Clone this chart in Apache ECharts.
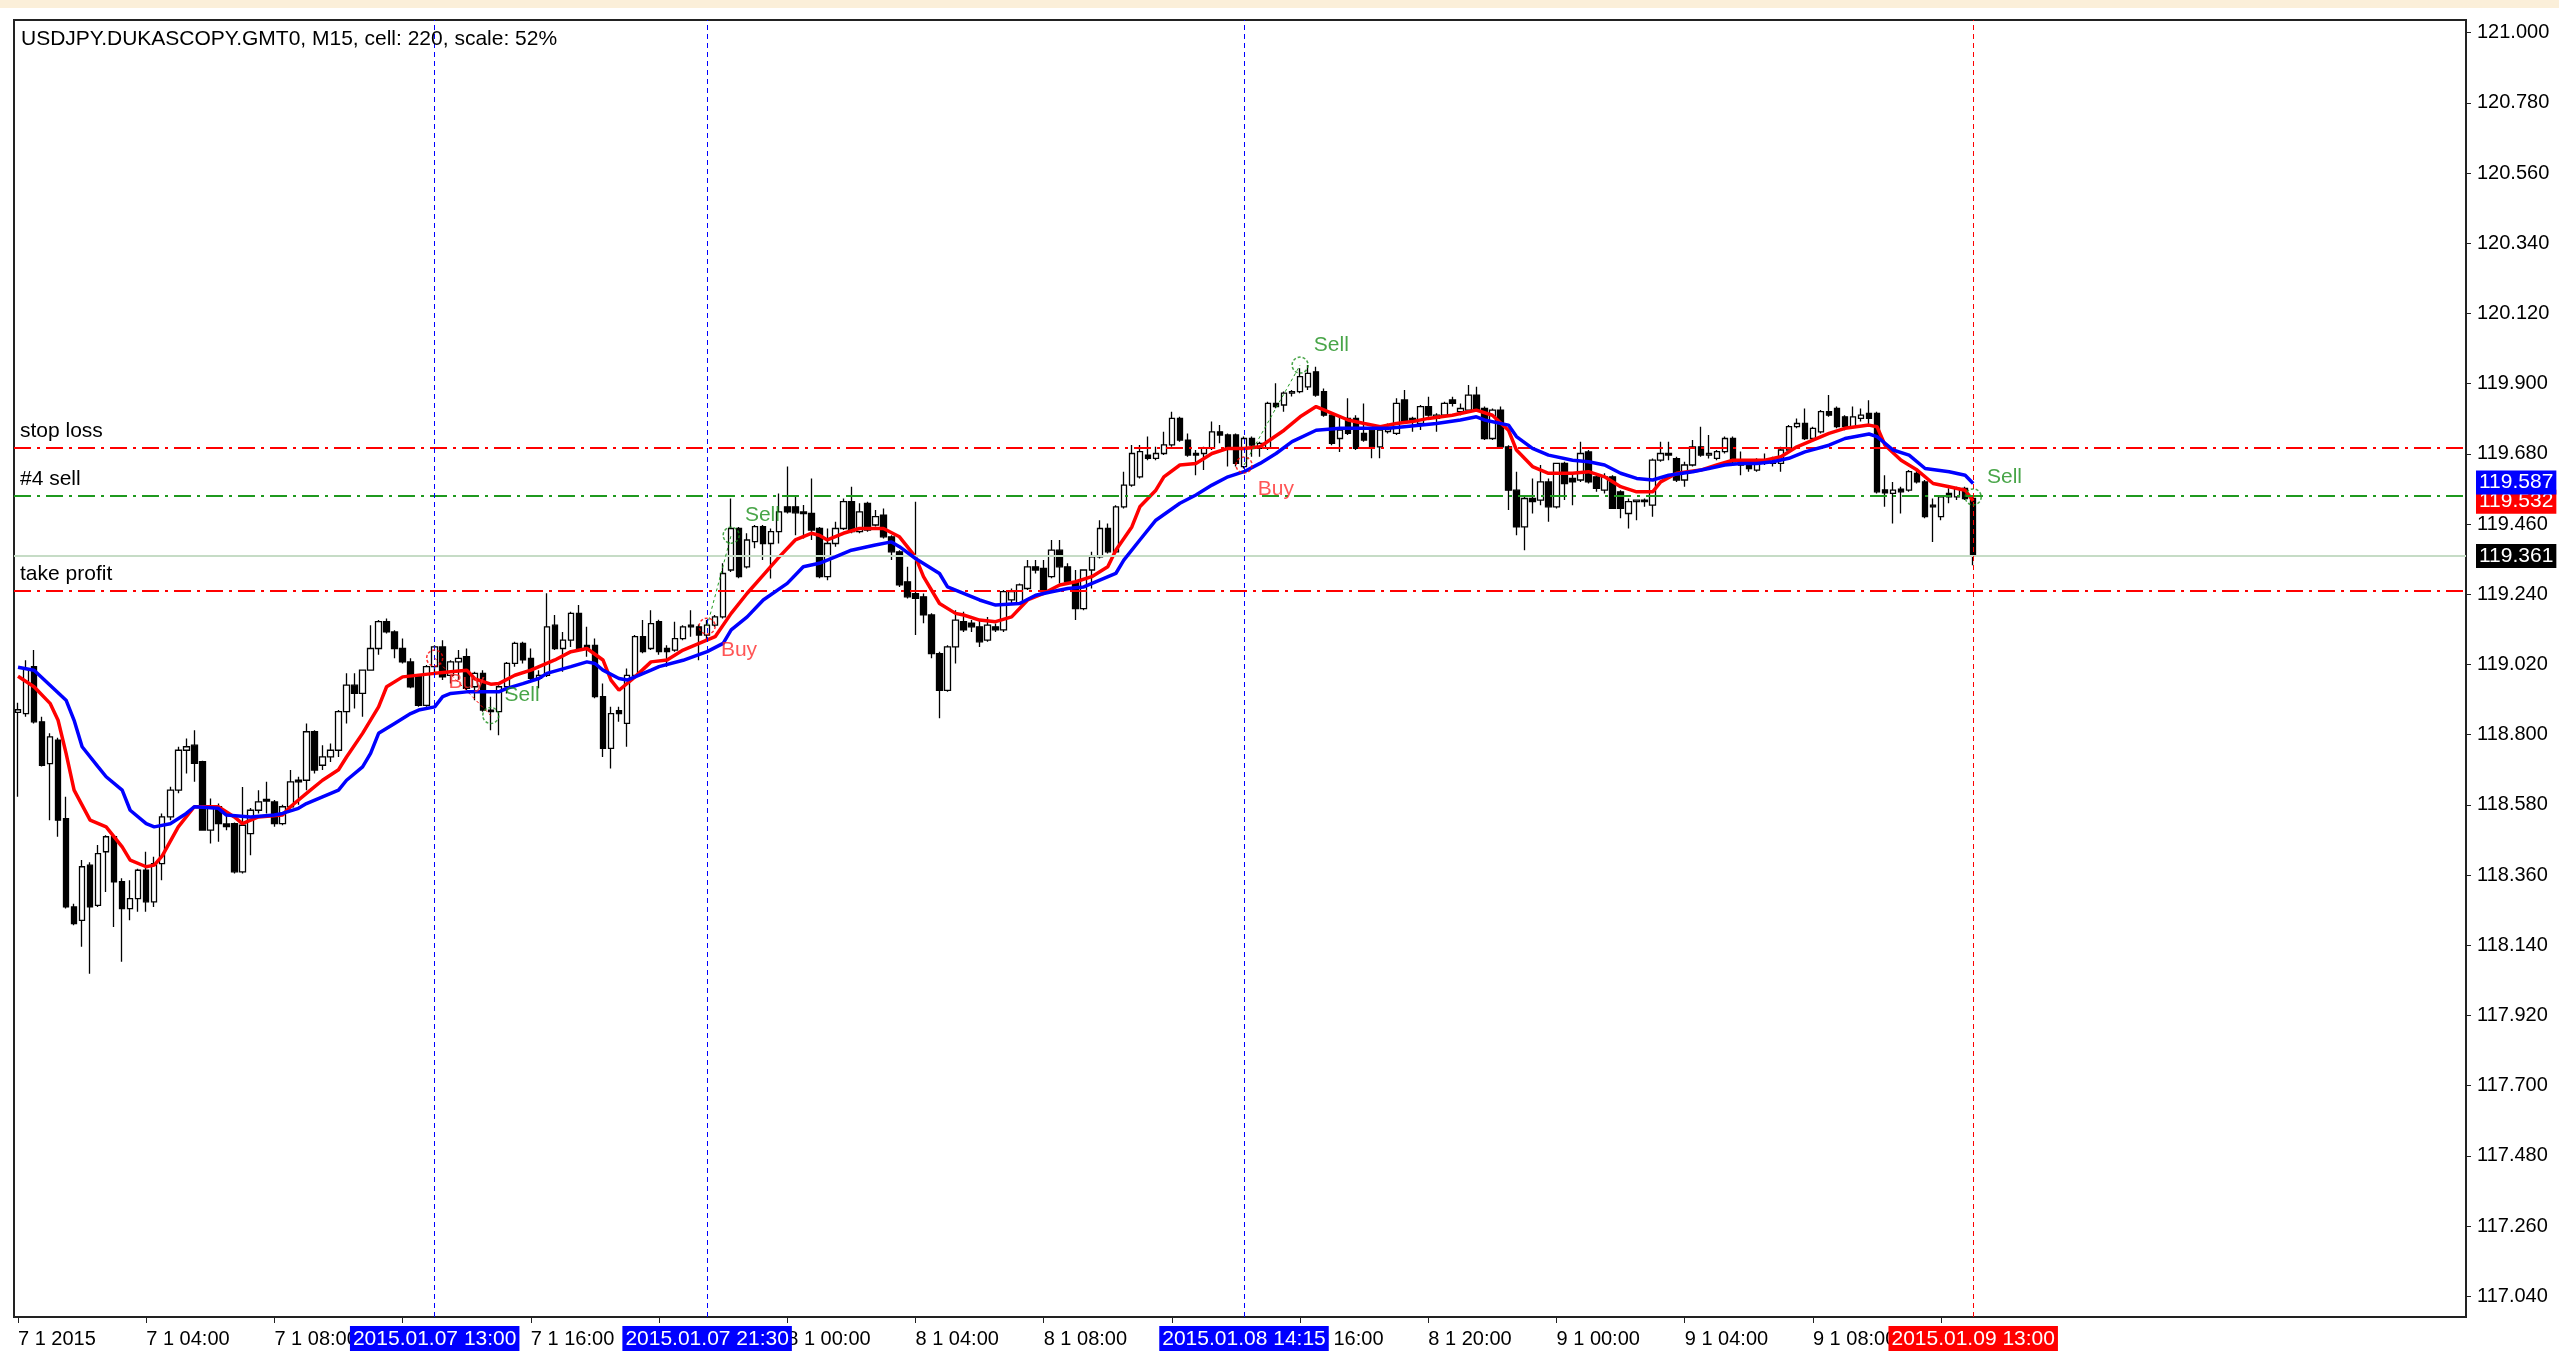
<!DOCTYPE html>
<html>
<head>
<meta charset="utf-8">
<title>USDJPY M15</title>
<script src="https://cdn.jsdelivr.net/npm/echarts@6/dist/echarts.min.js"></script>
<style>
  html, body { margin: 0; padding: 0; background: #fff; }
  #chart { width: 2559px; height: 1355px; }
</style>
</head>
<body>
<div id="chart"></div>
<script>
// one bar per 15 minutes from 2015.01.07 00:00, rows are [open, high, low, close]
const ohlc = [
  [118.870,118.900,118.605,118.878],[118.866,119.033,118.856,119.007],[119.013,119.065,118.835,118.840],[118.840,118.856,118.700,118.704],
  [118.709,118.804,118.532,118.793],[118.783,118.790,118.480,118.532],[118.537,118.605,118.255,118.260],[118.260,118.270,118.203,118.208],
  [118.218,118.407,118.135,118.386],[118.391,118.400,118.051,118.260],[118.265,118.454,118.260,118.427],[118.433,118.485,118.307,118.480],
  [118.480,118.485,118.197,118.339],[118.339,118.350,118.088,118.255],[118.255,118.344,118.218,118.286],[118.286,118.380,118.245,118.375],
  [118.375,118.433,118.245,118.276],[118.276,118.417,118.260,118.396],[118.396,118.553,118.344,118.542],[118.542,118.637,118.532,118.626],
  [118.626,118.762,118.616,118.751],[118.751,118.788,118.678,118.762],[118.767,118.814,118.652,118.710],[118.715,118.718,118.500,118.501],
  [118.501,118.600,118.459,118.574],[118.574,118.584,118.464,118.521],[118.520,118.550,118.500,118.512],[118.521,118.525,118.365,118.370],
  [118.370,118.636,118.365,118.516],[118.490,118.570,118.422,118.563],[118.563,118.626,118.553,118.589],[118.597,118.652,118.553,118.592],
  [118.589,118.595,118.511,118.521],[118.521,118.580,118.516,118.574],[118.574,118.689,118.570,118.652],[118.657,118.668,118.580,118.652],
  [118.657,118.835,118.626,118.809],[118.809,118.814,118.678,118.689],[118.704,118.767,118.689,118.730],[118.730,118.772,118.714,118.751],
  [118.751,118.877,118.730,118.872],[118.872,118.992,118.835,118.955],[118.955,118.992,118.882,118.929],[118.929,119.002,118.856,119.002],
  [119.002,119.143,119.000,119.070],[119.070,119.159,119.050,119.154],[119.154,119.164,119.117,119.122],[119.122,119.127,119.039,119.070],
  [119.070,119.101,119.023,119.028],[119.028,119.039,118.945,118.950],[118.985,118.986,118.887,118.892],[118.892,119.018,118.887,119.013],
  [119.013,119.080,118.986,119.075],[119.075,119.096,118.971,118.981],[118.986,119.033,118.960,119.028],[119.028,119.065,118.971,119.039],
  [119.044,119.070,118.940,118.945],[118.950,118.997,118.908,118.992],[118.992,119.002,118.872,118.877],[118.877,118.919,118.814,118.872],
  [118.872,118.955,118.798,118.950],[118.950,119.028,118.929,119.023],[119.023,119.091,119.013,119.086],[119.086,119.091,119.023,119.034],
  [119.039,119.070,118.971,118.976],[118.976,119.002,118.945,118.986],[118.986,119.243,118.981,119.138],[119.143,119.175,119.065,119.070],
  [119.070,119.122,118.997,119.096],[119.096,119.185,119.075,119.180],[119.180,119.206,119.065,119.070],[119.080,119.138,119.044,119.070],
  [119.080,119.101,118.914,118.919],[118.919,118.960,118.730,118.757],[118.757,118.887,118.694,118.866],[118.875,118.887,118.840,118.866],
  [118.835,119.007,118.762,118.986],[118.986,119.112,118.981,119.107],[119.107,119.159,119.055,119.060],[119.070,119.190,119.065,119.148],
  [119.154,119.160,119.050,119.060],[119.070,119.080,119.013,119.060],[119.065,119.154,119.060,119.101],[119.101,119.143,119.096,119.138],
  [119.143,119.190,119.107,119.138],[119.138,119.145,119.033,119.112],[119.112,119.159,119.100,119.143],[119.143,119.175,119.138,119.169],
  [119.169,119.337,119.164,119.305],[119.316,119.540,119.310,119.446],[119.446,119.451,119.290,119.295],[119.326,119.431,119.321,119.410],
  [119.405,119.457,119.384,119.452],[119.452,119.457,119.347,119.399],[119.399,119.446,119.289,119.436],[119.436,119.556,119.399,119.498],
  [119.514,119.640,119.493,119.498],[119.514,119.546,119.425,119.495],[119.498,119.520,119.415,119.493],[119.493,119.603,119.410,119.441],
  [119.446,119.451,119.290,119.295],[119.295,119.446,119.284,119.399],[119.399,119.467,119.389,119.446],[119.446,119.540,119.441,119.530],
  [119.530,119.577,119.431,119.436],[119.436,119.525,119.431,119.498],[119.525,119.530,119.436,119.441],[119.457,119.504,119.452,119.483],
  [119.488,119.509,119.415,119.420],[119.420,119.425,119.347,119.373],[119.373,119.378,119.263,119.269],[119.279,119.326,119.227,119.232],
  [119.242,119.530,119.112,119.227],[119.232,119.242,119.149,119.175],[119.175,119.180,119.039,119.054],[119.054,119.060,118.851,118.939],
  [118.939,119.080,118.934,119.075],[119.075,119.190,119.023,119.159],[119.154,119.185,119.122,119.128],[119.149,119.159,119.122,119.138],
  [119.138,119.159,119.075,119.091],[119.096,119.169,119.091,119.143],[119.138,119.148,119.122,119.128],[119.128,119.253,119.122,119.248],
  [119.222,119.258,119.211,119.248],[119.211,119.274,119.206,119.269],[119.258,119.347,119.253,119.326],[119.326,119.347,119.305,119.316],
  [119.321,119.347,119.243,119.248],[119.295,119.410,119.290,119.378],[119.378,119.410,119.274,119.326],[119.326,119.337,119.269,119.279],
  [119.279,119.316,119.159,119.195],[119.195,119.316,119.190,119.316],[119.316,119.373,119.258,119.357],[119.357,119.472,119.352,119.446],
  [119.446,119.462,119.368,119.373],[119.373,119.519,119.368,119.514],[119.514,119.624,119.509,119.582],[119.582,119.708,119.577,119.681],
  [119.608,119.708,119.603,119.687],[119.676,119.734,119.660,119.666],[119.666,119.702,119.660,119.681],[119.681,119.749,119.676,119.708],
  [119.708,119.812,119.702,119.791],[119.791,119.796,119.718,119.723],[119.723,119.744,119.671,119.676],[119.681,119.692,119.613,119.676],
  [119.681,119.702,119.629,119.697],[119.697,119.781,119.692,119.749],[119.749,119.770,119.713,119.739],[119.739,119.744,119.640,119.700],
  [119.739,119.744,119.640,119.650],[119.640,119.734,119.634,119.728],[119.728,119.734,119.671,119.707],[119.697,119.718,119.671,119.713],
  [119.697,119.843,119.692,119.838],[119.838,119.901,119.823,119.828],[119.833,119.875,119.812,119.870],[119.870,119.880,119.860,119.875],
  [119.875,119.948,119.870,119.922],[119.890,119.958,119.880,119.932],[119.937,119.953,119.859,119.864],[119.875,119.885,119.796,119.801],
  [119.801,119.807,119.707,119.713],[119.728,119.801,119.686,119.754],[119.791,119.854,119.739,119.744],[119.791,119.801,119.692,119.697],
  [119.744,119.838,119.718,119.723],[119.754,119.760,119.666,119.702],[119.702,119.765,119.666,119.754],[119.750,119.775,119.744,119.760],
  [119.744,119.854,119.739,119.838],[119.849,119.880,119.775,119.781],[119.791,119.796,119.749,119.781],[119.775,119.833,119.755,119.828],
  [119.828,119.859,119.796,119.801],[119.791,119.807,119.749,119.801],[119.801,119.843,119.796,119.838],[119.849,119.859,119.828,119.838],
  [119.812,119.838,119.801,119.822],[119.817,119.896,119.812,119.864],[119.864,119.890,119.812,119.817],[119.822,119.828,119.723,119.728],
  [119.728,119.822,119.723,119.817],[119.817,119.828,119.697,119.702],[119.702,119.707,119.504,119.566],[119.566,119.624,119.425,119.451],
  [119.451,119.545,119.378,119.540],[119.540,119.603,119.493,119.530],[119.535,119.645,119.519,119.592],[119.592,119.603,119.467,119.514],
  [119.514,119.650,119.509,119.650],[119.650,119.655,119.535,119.587],[119.603,119.619,119.519,119.592],[119.598,119.718,119.592,119.681],
  [119.686,119.692,119.587,119.592],[119.608,119.613,119.561,119.572],[119.566,119.619,119.556,119.608],[119.608,119.613,119.509,119.509],
  [119.561,119.566,119.478,119.509],[119.493,119.540,119.446,119.530],[119.530,119.535,119.472,119.535],[119.535,119.540,119.514,119.530],
  [119.519,119.665,119.483,119.660],[119.660,119.718,119.655,119.681],[119.681,119.718,119.660,119.676],[119.665,119.671,119.592,119.598],
  [119.598,119.655,119.577,119.645],[119.645,119.723,119.640,119.702],[119.702,119.765,119.671,119.676],[119.676,119.739,119.665,119.681],
  [119.666,119.692,119.660,119.687],[119.687,119.734,119.681,119.728],[119.728,119.734,119.650,119.655],[119.655,119.687,119.613,119.645],
  [119.645,119.650,119.624,119.634],[119.629,119.666,119.624,119.660],[119.660,119.681,119.645,119.650],[119.655,119.671,119.640,119.650],
  [119.650,119.702,119.624,119.692],[119.692,119.770,119.687,119.765],[119.765,119.791,119.760,119.775],[119.775,119.822,119.723,119.728],
  [119.728,119.765,119.723,119.760],[119.749,119.817,119.744,119.812],[119.812,119.864,119.796,119.801],[119.822,119.828,119.760,119.765],
  [119.796,119.801,119.754,119.765],[119.765,119.828,119.760,119.796],[119.791,119.822,119.781,119.801],[119.807,119.848,119.765,119.791],
  [119.807,119.812,119.556,119.561],[119.567,119.613,119.514,119.558],[119.556,119.592,119.462,119.566],[119.569,119.577,119.493,119.561],
  [119.566,119.629,119.561,119.624],[119.619,119.634,119.587,119.592],[119.592,119.598,119.478,119.483],[119.519,119.540,119.404,119.514],
  [119.483,119.551,119.472,119.545],[119.556,119.572,119.525,119.545],[119.545,119.577,119.535,119.572],[119.572,119.577,119.535,119.540],
  [119.540,119.545,119.331,119.361]
];

// moving averages: [bar, value]
const redMA = [
  [0,118.983],[2,118.950],[4,118.898],[5,118.845],[6,118.741],[7,118.626],[9,118.532],[11,118.511],[13,118.448],[14,118.407],
  [16,118.386],[17,118.391],[18,118.420],[20,118.511],[22,118.574],[25,118.574],[27,118.542],[28,118.521],[30,118.542],[33,118.548],
  [34,118.574],[36,118.616],[38,118.657],[40,118.690],[41,118.730],[43,118.804],[45,118.887],[46,118.950],[48,118.981],[52,118.992],
  [56,119.002],[57,118.975],[59,118.958],[60,118.960],[62,118.986],[64,119.002],[67,119.034],[69,119.060],[71,119.070],[73,119.034],
  [74,118.971],[75,118.939],[77,118.981],[79,119.028],[81,119.034],[83,119.065],[85,119.086],[87,119.107],[89,119.180],[91,119.243],
  [93,119.300],[95,119.357],[97,119.410],[99,119.431],[100,119.425],[101,119.410],[103,119.431],[105,119.446],[108,119.446],[110,119.420],
  [112,119.357],[113,119.295],[115,119.211],[117,119.180],[118,119.175],[120,119.159],[122,119.154],[124,119.169],[126,119.222],[128,119.243],
  [130,119.269],[132,119.279],[134,119.295],[136,119.326],[137,119.378],[139,119.451],[140,119.514],[142,119.566],[143,119.608],[145,119.645],
  [147,119.650],[149,119.681],[151,119.697],[153,119.697],[155,119.702],[158,119.754],[160,119.796],[162,119.828],[164,119.807],[166,119.786],
  [168,119.775],[170,119.765],[172,119.775],[174,119.781],[176,119.791],[179,119.801],[181,119.812],[182,119.817],[184,119.801],[186,119.754],
  [187,119.692],[189,119.640],[191,119.619],[194,119.619],[196,119.624],[198,119.608],[200,119.577],[202,119.561],[204,119.561],[205,119.592],
  [207,119.619],[210,119.629],[212,119.645],[214,119.660],[218,119.660],[220,119.671],[222,119.702],[224,119.723],[226,119.744],[228,119.760],
  [231,119.770],[232,119.765],[233,119.707],[235,119.660],[237,119.629],[239,119.587],[241,119.577],[243,119.566],[244,119.532]
];
const blueMA = [
  [0,119.011],[2,119.002],[4,118.955],[6,118.908],[7,118.845],[8,118.762],[10,118.699],[11,118.668],[13,118.626],[14,118.563],
  [16,118.521],[17,118.511],[19,118.521],[21,118.553],[22,118.574],[25,118.569],[26,118.548],[29,118.542],[32,118.548],[33,118.553],
  [35,118.569],[36,118.584],[38,118.605],[40,118.626],[41,118.657],[43,118.699],[44,118.741],[45,118.804],[47,118.835],[49,118.866],
  [50,118.877],[52,118.887],[53,118.919],[54,118.929],[56,118.934],[60,118.934],[61,118.945],[63,118.960],[65,118.976],[66,118.992],
  [69,119.013],[71,119.028],[72,119.023],[73,119.002],[75,118.976],[76,118.971],[77,118.981],[79,119.002],[80,119.013],[83,119.033],
  [86,119.060],[88,119.086],[89,119.128],[91,119.169],[93,119.222],[96,119.274],[98,119.326],[100,119.337],[102,119.357],[104,119.378],
  [107,119.394],[109,119.404],[110,119.389],[112,119.352],[115,119.305],[116,119.263],[118,119.243],[120,119.222],[122,119.206],[125,119.211],
  [127,119.237],[129,119.248],[131,119.258],[133,119.263],[135,119.284],[137,119.305],[138,119.347],[140,119.410],[142,119.472],[145,119.525],
  [147,119.551],[149,119.582],[151,119.608],[153,119.624],[155,119.650],[157,119.681],[159,119.718],[162,119.754],[165,119.760],[171,119.760],
  [173,119.765],[177,119.775],[180,119.786],[182,119.796],[183,119.786],[186,119.770],[187,119.734],[189,119.697],[191,119.676],[194,119.660],
  [196,119.655],[198,119.645],[200,119.619],[202,119.603],[204,119.598],[206,119.613],[209,119.624],[211,119.634],[213,119.645],[215,119.650],
  [217,119.650],[219,119.655],[221,119.666],[223,119.686],[226,119.707],[228,119.728],[231,119.742],[232,119.734],[234,119.692],[236,119.676],
  [238,119.634],[241,119.624],[243,119.613],[244,119.587]
];

const yTicks = [117.04,117.26,117.48,117.70,117.92,118.14,118.36,118.58,118.80,119.02,119.24,119.46,119.68,119.90,120.12,120.34,120.56,120.78,121.00];

// order levels
const stopLoss = 119.700;
const sellOpen = 119.545;
const takeProfit = 119.245;
const bid = 119.361;

// trade arrows [bar, price]
const buys = [[52,119.040],[86,119.140],[153,119.645]];
const sells = [[59,118.860],[89,119.425],[160,119.958],[244,119.545]];
const tradeColors = ['#ff0000','#1f991f','#1f991f'];

const openTimes = ['2015.01.07 13:00','2015.01.07 21:30','2015.01.08 14:15'];
const currentTime = '2015.01.09 13:00';

const FONT = '"Liberation Sans", Arial, sans-serif';
const pad = n => String(n).padStart(2, '0');
const times = [];
for (let i = 0; i < 306; i++) {
  const d = new Date(Date.UTC(2015, 0, 7, 0, 15 * i));
  times.push(d.getUTCFullYear() + '.' + pad(d.getUTCMonth() + 1) + '.' + pad(d.getUTCDate()) + ' ' +
    pad(d.getUTCHours()) + ':' + pad(d.getUTCMinutes()));
}
const showTick = idx => idx % 16 === 0 && idx < ohlc.length;
const xLabel = (val, idx) => {
  const day = +val.slice(8, 10), mon = +val.slice(5, 7);
  return idx === 0 ? day + ' ' + mon + ' ' + val.slice(0, 4) : day + ' ' + mon + ' ' + val.slice(11);
};

const chart = echarts.init(document.getElementById('chart'));

const levelLine = (value, name, color) => ({
  name: name, yAxis: value,
  lineStyle: { color: color, width: 2, type: [17, 6, 3, 6] },
  label: { show: true, position: 'insideStartTop', formatter: name, color: '#000',
    fontSize: 21, fontFamily: FONT, distance: 6 }
});
// price tag on the axis for the last value of a moving average
const priceBox = (value, bg) => ({
  yAxis: value,
  lineStyle: { color: 'rgba(0,0,0,0)', width: 1, type: 'solid' },
  label: { show: true, position: 'end', distance: 10, formatter: value.toFixed(3), color: '#fff',
    backgroundColor: bg, fontSize: 21, fontFamily: FONT, padding: [2, 3, 1, 3] }
});
const timeLine = (t, color) => ({
  name: t, xAxis: t,
  lineStyle: { color: color, width: 1, type: [5, 4] },
  label: { show: true, position: 'start', distance: 9, formatter: '{b}', color: '#fff',
    backgroundColor: color, fontSize: 21, fontFamily: FONT, padding: [3, 3, 1, 3] }
});

chart.setOption({
  animation: false,
  backgroundColor: '#fff',
  title: {
    text: 'USDJPY.DUKASCOPY.GMT0, M15, cell: 220, scale: 52%',
    left: 16, top: 24,
    textStyle: { fontSize: 21, fontWeight: 'normal', color: '#000', fontFamily: FONT }
  },
  graphic: [{
    type: 'rect', left: 0, top: 0, shape: { width: 2559, height: 8 },
    style: { fill: '#fbefd9' }, silent: true
  }],
  grid: { left: 14, right: 93, top: 20, bottom: 38, show: true, borderColor: '#222', borderWidth: 2 },
  xAxis: {
    type: 'category', data: times, boundaryGap: true,
    axisLine: { show: true, lineStyle: { color: '#222', width: 2 } },
    axisTick: { show: true, alignWithLabel: true, length: 6, interval: showTick, lineStyle: { color: '#222' } },
    axisLabel: { interval: showTick, align: 'left', margin: 12, fontSize: 20, color: '#000',
      fontFamily: FONT, formatter: xLabel },
    splitLine: { show: false }
  },
  yAxis: {
    type: 'value', position: 'right', min: 116.975, max: 121.0395,
    splitLine: { show: false },
    axisLine: { show: true, lineStyle: { color: '#222', width: 2 } },
    axisTick: { show: true, length: 5, customValues: yTicks, lineStyle: { color: '#222' } },
    axisLabel: { customValues: yTicks, formatter: v => v.toFixed(3), margin: 11, fontSize: 20,
      color: '#000', fontFamily: FONT }
  },
  series: [
    {
      name: 'levels', type: 'line', data: [], z: 1, silent: true,
      markLine: {
        symbol: ['none', 'none'], silent: true, animation: false,
        data: [
          { yAxis: bid, lineStyle: { color: '#c6dcc6', width: 2, type: 'solid' },
            label: { show: true, position: 'end', distance: 10, formatter: bid.toFixed(3), color: '#fff',
              backgroundColor: '#000', fontSize: 21, fontFamily: FONT, padding: [2, 3, 1, 3] } },
          levelLine(stopLoss, 'stop loss', '#ff0000'),
          levelLine(sellOpen, '#4 sell', '#1f991f'),
          levelLine(takeProfit, 'take profit', '#ff0000'),
          timeLine(openTimes[0], '#0000ff'),
          timeLine(openTimes[1], '#0000ff'),
          timeLine(openTimes[2], '#0000ff'),
          timeLine(currentTime, '#ff0000')
        ]
      }
    },
    {
      name: 'USDJPY', type: 'candlestick', z: 2, barWidth: 6,
      data: ohlc.map(r => [r[0], r[3], r[2], r[1]]),
      itemStyle: { color: '#fff', color0: '#000', borderColor: '#000', borderColor0: '#000', borderWidth: 1.3 }
    },
    {
      name: 'trades', type: 'line', data: [], z: 3, silent: true,
      markLine: {
        symbol: ['none', 'none'], silent: true, animation: false, label: { show: false },
        data: buys.map((b, i) => [
          { coord: b, lineStyle: { color: tradeColors[i], width: 1, type: [3, 3] } },
          { coord: sells[i] }
        ])
      }
    },
    {
      name: 'MA red', type: 'line', z: 4, data: redMA, showSymbol: false, symbol: 'none',
      lineStyle: { color: '#ff0000', width: 3.5 },
      markLine: { symbol: ['none', 'none'], silent: true, animation: false,
        data: [priceBox(redMA[redMA.length - 1][1], '#ff0000')] }
    },
    {
      name: 'MA blue', type: 'line', z: 5, data: blueMA, showSymbol: false, symbol: 'none',
      lineStyle: { color: '#0000ff', width: 3.5 },
      markLine: { symbol: ['none', 'none'], silent: true, animation: false,
        data: [priceBox(blueMA[blueMA.length - 1][1], '#0000ff')] }
    },
    {
      name: 'Buy', type: 'scatter', z: 6, data: buys, symbol: 'circle', symbolSize: 16,
      itemStyle: { color: 'rgba(0,0,0,0)', borderColor: '#ff0000', borderWidth: 1.5, borderType: [3, 2] },
      label: { show: true, position: 'right', offset: [0, 24], formatter: 'Buy', color: '#ff2a2a',
        fontSize: 21, fontFamily: FONT }
    },
    {
      name: 'Sell', type: 'scatter', z: 6, data: sells, symbol: 'circle', symbolSize: 16,
      itemStyle: { color: 'rgba(0,0,0,0)', borderColor: '#1a8f1a', borderWidth: 1.5, borderType: [3, 2] },
      label: { show: true, position: 'right', offset: [0, -20], formatter: 'Sell', color: '#1a8f1a',
        fontSize: 21, fontFamily: FONT }
    }
  ]
});
</script>
</body>
</html>
